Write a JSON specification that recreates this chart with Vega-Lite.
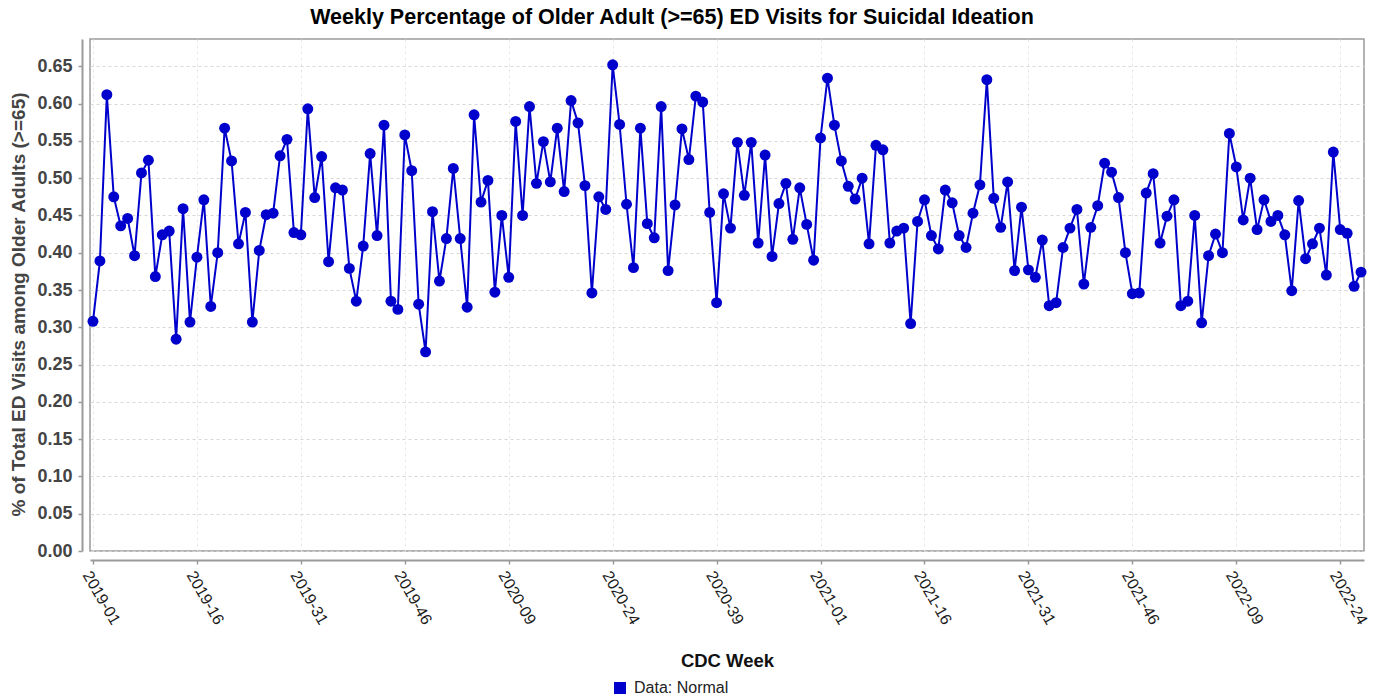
{
  "$schema": "https://vega.github.io/schema/vega-lite/v6.json",
  "autosize": {"type": "none"},
  "width": 1274,
  "height": 512,
  "padding": {"left": 90, "top": 39, "right": 20, "bottom": 147},
  "background": "white",
  "title": {"text": "Weekly Percentage of Older Adult (>=65) ED Visits for Suicidal Ideation", "anchor": "middle", "dx": -55, "fontSize": 21.5, "font": "Liberation Sans", "fontWeight": "bold", "color": "#000000", "offset": 10.5},
  "config": {"font": "Liberation Sans", "view": {"stroke": "#9a9a9a", "strokeWidth": 1.5}},
  "data": {"values": [
    {"week":"2019-01","pct":0.308},{"week":"2019-02","pct":0.389},{"week":"2019-03","pct":0.612},{"week":"2019-04","pct":0.475},{"week":"2019-05","pct":0.436},{"week":"2019-06","pct":0.446},{"week":"2019-07","pct":0.396},{"week":"2019-08","pct":0.507},{"week":"2019-09","pct":0.524},{"week":"2019-10","pct":0.368},
    {"week":"2019-11","pct":0.424},{"week":"2019-12","pct":0.429},{"week":"2019-13","pct":0.284},{"week":"2019-14","pct":0.459},{"week":"2019-15","pct":0.307},{"week":"2019-16","pct":0.394},{"week":"2019-17","pct":0.471},{"week":"2019-18","pct":0.328},{"week":"2019-19","pct":0.400},{"week":"2019-20","pct":0.567},
    {"week":"2019-21","pct":0.523},{"week":"2019-22","pct":0.412},{"week":"2019-23","pct":0.454},{"week":"2019-24","pct":0.307},{"week":"2019-25","pct":0.403},{"week":"2019-26","pct":0.451},{"week":"2019-27","pct":0.453},{"week":"2019-28","pct":0.530},{"week":"2019-29","pct":0.552},{"week":"2019-30","pct":0.427},
    {"week":"2019-31","pct":0.424},{"week":"2019-32","pct":0.593},{"week":"2019-33","pct":0.474},{"week":"2019-34","pct":0.529},{"week":"2019-35","pct":0.388},{"week":"2019-36","pct":0.487},{"week":"2019-37","pct":0.484},{"week":"2019-38","pct":0.379},{"week":"2019-39","pct":0.335},{"week":"2019-40","pct":0.409},
    {"week":"2019-41","pct":0.533},{"week":"2019-42","pct":0.423},{"week":"2019-43","pct":0.571},{"week":"2019-44","pct":0.335},{"week":"2019-45","pct":0.324},{"week":"2019-46","pct":0.558},{"week":"2019-47","pct":0.510},{"week":"2019-48","pct":0.331},{"week":"2019-49","pct":0.267},{"week":"2019-50","pct":0.455},
    {"week":"2019-51","pct":0.362},{"week":"2019-52","pct":0.419},
    {"week":"2020-01","pct":0.513},{"week":"2020-02","pct":0.419},{"week":"2020-03","pct":0.327},{"week":"2020-04","pct":0.585},{"week":"2020-05","pct":0.468},{"week":"2020-06","pct":0.497},{"week":"2020-07","pct":0.347},{"week":"2020-08","pct":0.450},{"week":"2020-09","pct":0.367},{"week":"2020-10","pct":0.576},
    {"week":"2020-11","pct":0.450},{"week":"2020-12","pct":0.596},{"week":"2020-13","pct":0.493},{"week":"2020-14","pct":0.549},{"week":"2020-15","pct":0.495},{"week":"2020-16","pct":0.567},{"week":"2020-17","pct":0.482},{"week":"2020-18","pct":0.604},{"week":"2020-19","pct":0.574},{"week":"2020-20","pct":0.490},
    {"week":"2020-21","pct":0.346},{"week":"2020-22","pct":0.475},{"week":"2020-23","pct":0.458},{"week":"2020-24","pct":0.652},{"week":"2020-25","pct":0.572},{"week":"2020-26","pct":0.465},{"week":"2020-27","pct":0.380},{"week":"2020-28","pct":0.567},{"week":"2020-29","pct":0.439},{"week":"2020-30","pct":0.420},
    {"week":"2020-31","pct":0.596},{"week":"2020-32","pct":0.376},{"week":"2020-33","pct":0.464},{"week":"2020-34","pct":0.566},{"week":"2020-35","pct":0.525},{"week":"2020-36","pct":0.610},{"week":"2020-37","pct":0.602},{"week":"2020-38","pct":0.454},{"week":"2020-39","pct":0.333},{"week":"2020-40","pct":0.479},
    {"week":"2020-41","pct":0.433},{"week":"2020-42","pct":0.548},{"week":"2020-43","pct":0.477},{"week":"2020-44","pct":0.548},{"week":"2020-45","pct":0.413},{"week":"2020-46","pct":0.531},{"week":"2020-47","pct":0.395},{"week":"2020-48","pct":0.466},{"week":"2020-49","pct":0.493},{"week":"2020-50","pct":0.418},
    {"week":"2020-51","pct":0.487},{"week":"2020-52","pct":0.438},{"week":"2020-53","pct":0.390},
    {"week":"2021-01","pct":0.554},{"week":"2021-02","pct":0.634},{"week":"2021-03","pct":0.571},{"week":"2021-04","pct":0.523},{"week":"2021-05","pct":0.489},{"week":"2021-06","pct":0.472},{"week":"2021-07","pct":0.500},{"week":"2021-08","pct":0.412},{"week":"2021-09","pct":0.544},{"week":"2021-10","pct":0.538},
    {"week":"2021-11","pct":0.413},{"week":"2021-12","pct":0.429},{"week":"2021-13","pct":0.433},{"week":"2021-14","pct":0.305},{"week":"2021-15","pct":0.442},{"week":"2021-16","pct":0.471},{"week":"2021-17","pct":0.423},{"week":"2021-18","pct":0.405},{"week":"2021-19","pct":0.484},{"week":"2021-20","pct":0.467},
    {"week":"2021-21","pct":0.423},{"week":"2021-22","pct":0.407},{"week":"2021-23","pct":0.453},{"week":"2021-24","pct":0.491},{"week":"2021-25","pct":0.632},{"week":"2021-26","pct":0.473},{"week":"2021-27","pct":0.434},{"week":"2021-28","pct":0.495},{"week":"2021-29","pct":0.376},{"week":"2021-30","pct":0.461},
    {"week":"2021-31","pct":0.377},{"week":"2021-32","pct":0.367},{"week":"2021-33","pct":0.417},{"week":"2021-34","pct":0.329},{"week":"2021-35","pct":0.333},{"week":"2021-36","pct":0.407},{"week":"2021-37","pct":0.433},{"week":"2021-38","pct":0.458},{"week":"2021-39","pct":0.358},{"week":"2021-40","pct":0.434},
    {"week":"2021-41","pct":0.463},{"week":"2021-42","pct":0.520},{"week":"2021-43","pct":0.508},{"week":"2021-44","pct":0.474},{"week":"2021-45","pct":0.400},{"week":"2021-46","pct":0.345},{"week":"2021-47","pct":0.346},{"week":"2021-48","pct":0.480},{"week":"2021-49","pct":0.506},{"week":"2021-50","pct":0.413},
    {"week":"2021-51","pct":0.449},{"week":"2021-52","pct":0.471},
    {"week":"2022-01","pct":0.329},{"week":"2022-02","pct":0.335},{"week":"2022-03","pct":0.450},{"week":"2022-04","pct":0.306},{"week":"2022-05","pct":0.396},{"week":"2022-06","pct":0.425},{"week":"2022-07","pct":0.400},{"week":"2022-08","pct":0.560},{"week":"2022-09","pct":0.515},{"week":"2022-10","pct":0.444},
    {"week":"2022-11","pct":0.500},{"week":"2022-12","pct":0.431},{"week":"2022-13","pct":0.471},{"week":"2022-14","pct":0.442},{"week":"2022-15","pct":0.450},{"week":"2022-16","pct":0.424},{"week":"2022-17","pct":0.349},{"week":"2022-18","pct":0.470},{"week":"2022-19","pct":0.392},{"week":"2022-20","pct":0.412},
    {"week":"2022-21","pct":0.433},{"week":"2022-22","pct":0.370},{"week":"2022-23","pct":0.535},{"week":"2022-24","pct":0.431},{"week":"2022-25","pct":0.426},{"week":"2022-26","pct":0.355},{"week":"2022-27","pct":0.374}
  ]},
  "mark": {"type": "line", "strokeWidth": 2, "point": {"filled": true, "size": 120, "opacity": 1}},
  "encoding": {
    "x": {
      "field": "week", "type": "ordinal", "sort": null,
      "scale": {"type": "point", "padding": 0.43},
      "axis": {
        "values": ["2019-01","2019-16","2019-31","2019-46","2020-09","2020-24","2020-39","2021-01","2021-16","2021-31","2021-46","2022-09","2022-24"],
        "labelAngle": 60, "labelAlign": "left", "labelBaseline": "top", "labelFontSize": 16, "labelColor": "#1a1a1a", "labelPadding": 4,
        "offset": 9, "domainColor": "#9a9a9a", "domainWidth": 2, "tickColor": "#9a9a9a", "tickWidth": 1.5, "tickSize": 4,
        "grid": true, "gridDash": [3, 3], "gridColor": "#e8e8e8", "gridWidth": 1,
        "title": "CDC Week", "titleFontSize": 18.5, "titleFontWeight": "bold", "titleColor": "#111111", "titleX": 637, "titleY": 106, "titleBaseline": "alphabetic", "titleAlign": "center"
      }
    },
    "y": {
      "field": "pct", "type": "quantitative",
      "scale": {"domain": [0, 0.6866], "nice": false, "zero": true},
      "axis": {
        "values": [0, 0.05, 0.1, 0.15, 0.2, 0.25, 0.3, 0.35, 0.4, 0.45, 0.5, 0.55, 0.6, 0.65],
        "format": ".2f", "labelFontSize": 18, "labelFontWeight": "bold", "labelColor": "#444444", "labelPadding": 6,
        "offset": 8, "domainColor": "#9a9a9a", "domainWidth": 2, "tickColor": "#9a9a9a", "tickWidth": 1.5, "tickSize": 4,
        "grid": true, "gridDash": [3, 3], "gridColor": "#d6d6d6", "gridWidth": 1,
        "title": "% of Total ED Visits among Older Adults (>=65)", "titleFontSize": 19, "titleFontWeight": "bold", "titleColor": "#444444",
        "titleX": -64, "titleY": 265, "titleBaseline": "middle", "titleAlign": "center", "titleAngle": -90
      }
    },
    "color": {
      "datum": "Data: Normal", "type": "nominal",
      "scale": {"range": ["#0000cc"]},
      "legend": {"orient": "none", "legendX": 522, "legendY": 641, "title": null, "padding": 0, "symbolType": "square", "symbolSize": 144, "symbolFillColor": "#0000cc", "symbolStrokeColor": "#0000cc", "symbolStrokeWidth": 0, "labelFontSize": 16, "labelFont": "Liberation Sans", "labelColor": "#222222", "labelOffset": 6}
    }
  }
}
